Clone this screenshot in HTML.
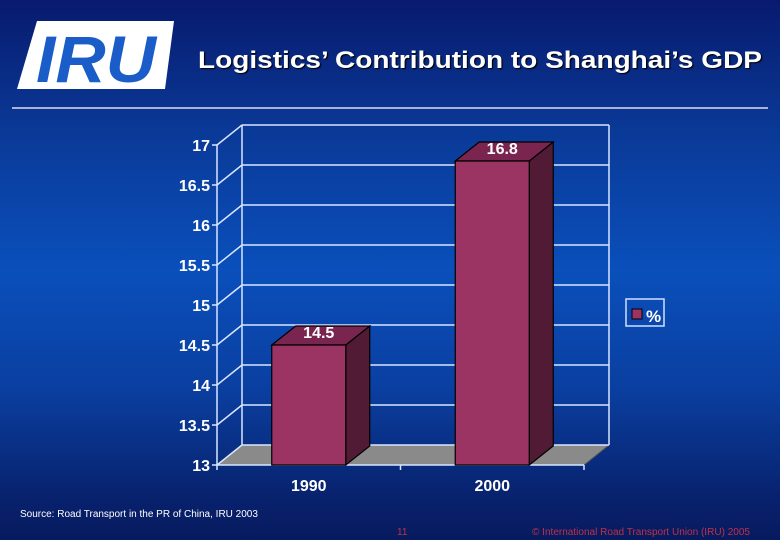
<!DOCTYPE html>
<html><head><meta charset="utf-8"><style>
html,body{margin:0;padding:0;width:780px;height:540px;overflow:hidden;}
body{background:linear-gradient(180deg,#081a6e 0%,#0a3a98 25%,#0a4fbb 50%,#0a3fa0 72%,#08226e 92%,#071a5e 100%);font-family:"Liberation Sans",Arial,sans-serif;}
svg{position:absolute;left:0;top:0;}
</style></head><body>
<svg width="780" height="540">
  <g>
    <polygon points="37,21 174,21 165,89 17,89" fill="#fff"/>
    <text x="96" y="82" font-size="66" font-weight="bold" font-style="italic" fill="#1a5cc8" text-anchor="middle" textLength="120" lengthAdjust="spacingAndGlyphs">IRU</text>
  </g>
  <text x="198" y="68" font-size="24" font-weight="bold" fill="#fff" textLength="564" lengthAdjust="spacingAndGlyphs" style="text-shadow:1px 1px 1px #000">Logistics’ Contribution to Shanghai’s GDP</text>
  <line x1="12" y1="108" x2="768" y2="108" stroke="#dde" stroke-width="1.5"/>
  <g id="chart"></g>
  <g>
    <rect x="626" y="299" width="38" height="27" fill="none" stroke="#cfe0ff" stroke-width="1.5"/>
    <rect x="632" y="309" width="10" height="10" fill="#9b3363" stroke="#000" stroke-width="1"/>
    <text x="646" y="322" font-size="17" font-weight="bold" fill="#fff">%</text>
  </g>
  <text x="20" y="517" font-size="10" fill="#fff">Source: Road Transport in the PR of China, IRU 2003</text>
  <text x="397" y="535" font-size="10" fill="#c0304a">11</text>
  <text x="532" y="535" font-size="10" fill="#c0304a" textLength="218" lengthAdjust="spacingAndGlyphs">© International Road Transport Union (IRU) 2005</text>
</svg>
<script>
const categories=["1990","2000"];
const values=[14.5,16.8];
const valueLabels=["14.5","16.8"];
const tickValues=[13,13.5,14,14.5,15,15.5,16,16.5,17];
const tickLabels=["13","13.5","14","14.5","15","15.5","16","16.5","17"];
const NS="http://www.w3.org/2000/svg";
const g=document.getElementById('chart');
const x0=217,x1=584,yMin=13,yMax=17,yB=465,yT=145,dx=25,dy=-20;
function y(v){return yB-(v-yMin)/(yMax-yMin)*(yB-yT);}
function xc(i){return x0+(x1-x0)*(i+0.5)/categories.length;}
function el(t,a){const e=document.createElementNS(NS,t);for(const k in a)e.setAttribute(k,a[k]);g.appendChild(e);return e;}
const fl=el('polygon',{points:`${x0},${yB} ${x1},${yB} ${x1+dx},${yB+dy} ${x0+dx},${yB+dy}`,fill:'#8a8a8a',stroke:'#555'});


const st='#d8e6ff';
el('line',{x1:x0+dx,y1:y(yMax)+dy,x2:x0+dx,y2:yB+dy,stroke:st,'stroke-width':1.5});
el('line',{x1:x1+dx,y1:y(yMax)+dy,x2:x1+dx,y2:yB+dy,stroke:st,'stroke-width':1.5});
el('line',{x1:x0,y1:yB,x2:x0,y2:y(yMax),stroke:st,'stroke-width':1.5});
tickValues.forEach((v,i)=>{
  const yy=y(v);
  const gl=el('line',{x1:x0+dx,y1:yy+dy,x2:x1+dx,y2:yy+dy,stroke:st,'stroke-width':1.5});
  
  
  el('line',{x1:x0,y1:yy,x2:x0+dx,y2:yy+dy,stroke:st,'stroke-width':1.5});
  el('line',{x1:x0-5,y1:yy,x2:x0,y2:yy,stroke:st,'stroke-width':1.5});
  const t=el('text',{x:x0-7,y:yy+6,'font-size':16,'font-weight':'bold',fill:'#fff','text-anchor':'end'});
  t.textContent=tickLabels[i];
  
  
});
el('line',{x1:x0,y1:yB,x2:x1,y2:yB,stroke:st,'stroke-width':1.5});
[0,1,2].forEach(i=>{const xx=x0+(x1-x0)*i/2;el('line',{x1:xx,y1:yB,x2:xx,y2:yB+5,stroke:st,'stroke-width':1.5});});
const bw=74,bdx=24,bdy=-19;
categories.forEach((c,i)=>{
  const cx=xc(i),l=cx-bw/2,r=cx+bw/2,top=y(values[i]);
  const bg=document.createElementNS(NS,'g');g.appendChild(bg);
  
  
  const mk=(pts,f)=>{const p=document.createElementNS(NS,'polygon');p.setAttribute('points',pts);p.setAttribute('fill',f);p.setAttribute('stroke','#000');p.setAttribute('stroke-width','1.2');bg.appendChild(p);};
  mk(`${r},${yB} ${r+bdx},${yB+bdy} ${r+bdx},${top+bdy} ${r},${top}`,'#521b35');
  mk(`${l},${top} ${l+bdx},${top+bdy} ${r+bdx},${top+bdy} ${r},${top}`,'#7a2450');
  mk(`${l},${yB} ${r},${yB} ${r},${top} ${l},${top}`,'#9b3363');
  const vl=el('text',{x:cx+10,y:top-7,'font-size':16,'font-weight':'bold',fill:'#fff','text-anchor':'middle'});
  vl.textContent=valueLabels[i];
  
  
  const xl=el('text',{x:cx,y:yB+26,'font-size':16,'font-weight':'bold',fill:'#fff','text-anchor':'middle'});
  xl.textContent=c;
  
  
});
</script>
</body></html>
